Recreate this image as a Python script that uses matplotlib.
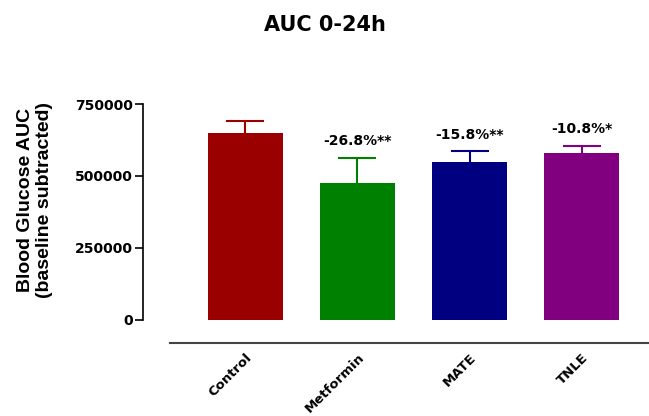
import numpy as np
import matplotlib.pyplot as plt

groups = ['Control', 'Metformin', 'MATE', 'TNLE']
auc_mean = [650000, 475800, 547300, 579800]
auc_sem = [42000, 88000, 38000, 25000]
change_labels = ['', '-26.8%**', '-15.8%**', '-10.8%*']
bar_colors = ['#9b0000', '#008000', '#000080', '#800080']

plt.rcParams['font.family'] = 'DejaVu Sans'
plt.rcParams['font.weight'] = 'bold'

fig = plt.figure(figsize=(6.49, 4.16), dpi=100)
ax = fig.add_axes([0.262, 0.2308, 0.738, 0.5192])

# spines first: set_position resets the tick labels
ax.spines['top'].set_visible(False)
ax.spines['right'].set_visible(False)
ax.spines['left'].set_position(('outward', 19.5))
ax.spines['left'].set_bounds(0, 750000)
ax.spines['left'].set_linewidth(1.2)
ax.spines['bottom'].set_position(('outward', 16.5))
ax.spines['bottom'].set_color('#444444')
ax.spines['bottom'].set_linewidth(1.5)

x = np.arange(len(groups))
ax.bar(x, auc_mean, width=0.67, color=bar_colors, zorder=3)
for i in range(len(groups)):
    eb = ax.errorbar(x[i], auc_mean[i], yerr=[[0], [auc_sem[i]]], fmt='none',
                     ecolor=bar_colors[i], elinewidth=1.5, capsize=13.5,
                     capthick=1.5, zorder=2)
    eb[1][0].remove()  # only the upper cap, Prism style
    if change_labels[i]:
        ax.annotate(change_labels[i], (x[i], auc_mean[i] + auc_sem[i]),
                    xytext=(0, 7), textcoords='offset points',
                    ha='center', va='bottom', fontsize=10, fontweight='bold')

ax.set_xlim(-0.67, 3.6)
ax.set_ylim(0, 750000)
ax.set_yticks([0, 250000, 500000, 750000])
ax.set_yticklabels(['0', '250000', '500000', '750000'], fontsize=10, fontweight='bold')
ax.set_xticks(x)
ax.set_xticklabels(groups, rotation=45, ha='right', rotation_mode='anchor',
                   fontsize=9.5, fontweight='bold')
ax.tick_params(axis='x', length=0, pad=6)
ax.tick_params(axis='y', length=6, width=1.2, pad=1)

fig.text(35 / 649, 0.519, 'Blood Glucose AUC\n(baseline subtracted)', rotation=90,
         ha='center', va='center', multialignment='center',
         fontsize=14, fontweight='bold', family='Liberation Sans')
fig.text(0.5, 0.94, 'AUC 0-24h', ha='center', va='center', fontsize=15, fontweight='bold')

plt.savefig('out.png', dpi=100)
plt.close()
